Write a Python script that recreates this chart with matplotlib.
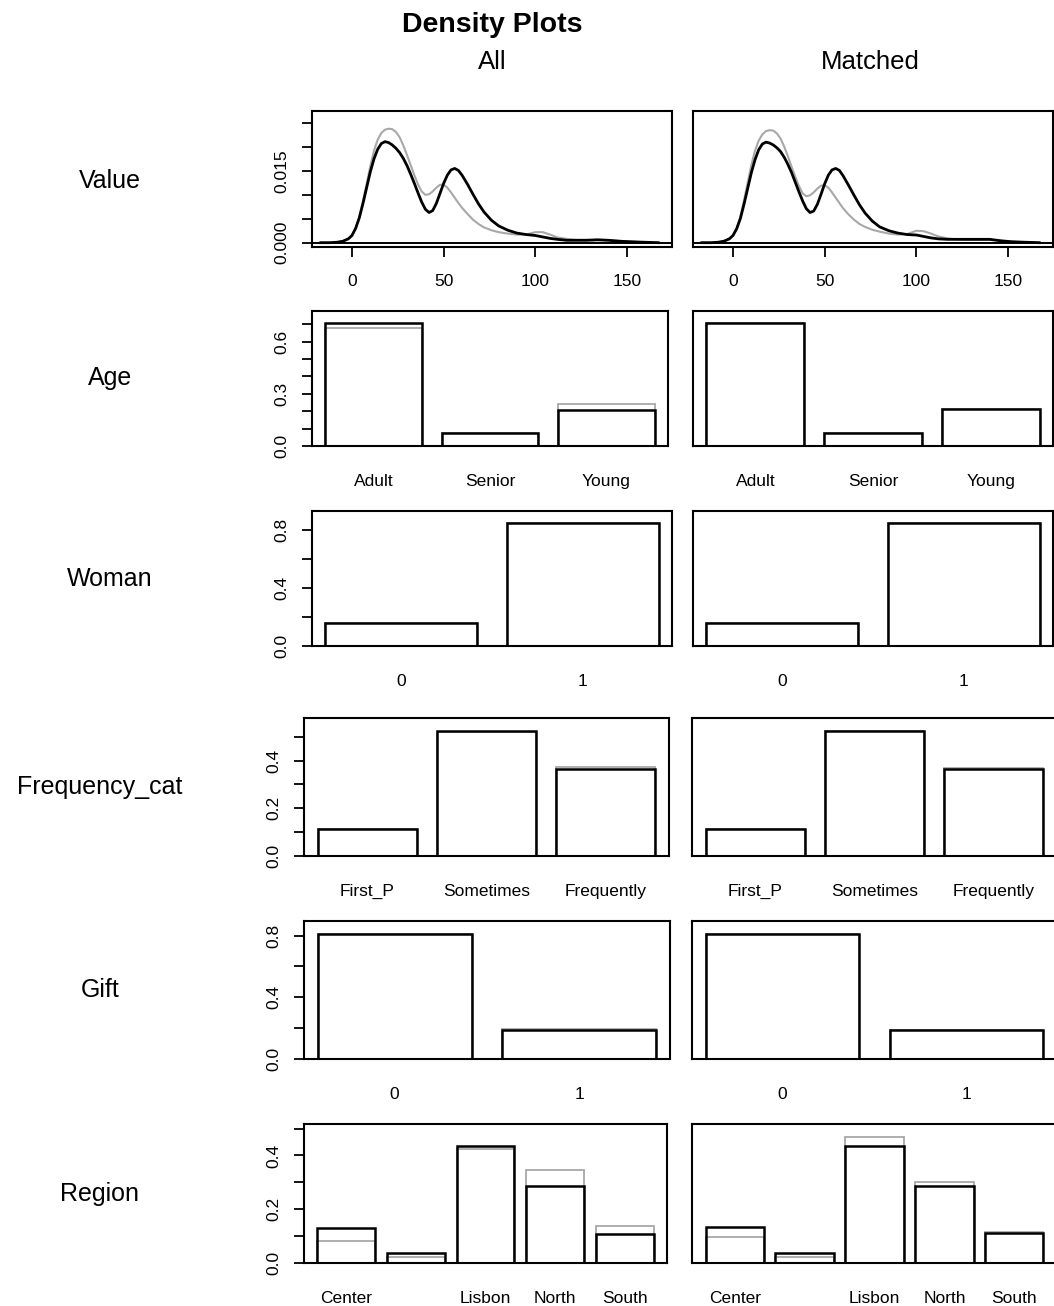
import matplotlib.pyplot as plt
import numpy as np

plt.rcParams['font.family'] = ['Liberation Sans', 'DejaVu Sans']

# ---- data ----
value_x = [-17, -12, -8, -5, -2, 0, 2, 4, 6, 8, 10, 12, 14, 16, 18, 20, 22, 24, 26, 28,
           30, 32, 34, 36, 38, 40, 42, 44, 46, 48, 50, 52, 54, 56, 58, 60, 63, 66, 69, 72,
           76, 80, 85, 90, 95, 100, 104, 108, 112, 117, 122, 128, 134, 140, 146, 152, 159, 167]
value_all_black = [0, 0, 0.0001, 0.0003, 0.0008, 0.0015, 0.0030, 0.0052, 0.0082, 0.0115,
                   0.0148, 0.0175, 0.0195, 0.0207, 0.0211, 0.0209, 0.0204, 0.0197, 0.0188, 0.0176,
                   0.0161, 0.0143, 0.0124, 0.0104, 0.0085, 0.0070, 0.0063, 0.0067, 0.0082, 0.0103,
                   0.0124, 0.0141, 0.0152, 0.0155, 0.0151, 0.0141, 0.0122, 0.0101, 0.0081, 0.0064,
                   0.0047, 0.0035, 0.0026, 0.0020, 0.0017, 0.0015, 0.0012, 0.0009, 0.0007, 0.0005,
                   0.0005, 0.0005, 0.0006, 0.0005, 0.0003, 0.0002, 0.0001, 0]
value_all_gray = [0, 0, 0.0001, 0.0003, 0.0008, 0.0015, 0.0030, 0.0054, 0.0087, 0.0123,
                  0.0160, 0.0192, 0.0215, 0.0229, 0.0236, 0.0238, 0.0237, 0.0231, 0.0220, 0.0203,
                  0.0183, 0.0162, 0.0141, 0.0122, 0.0107, 0.0100, 0.0101, 0.0107, 0.0115, 0.0121,
                  0.0121, 0.0115, 0.0105, 0.0094, 0.0083, 0.0073, 0.0060, 0.0048, 0.0039, 0.0032,
                  0.0026, 0.0022, 0.0019, 0.0017, 0.0017, 0.0022, 0.0022, 0.0017, 0.0011, 0.0008,
                  0.0006, 0.0006, 0.0006, 0.0005, 0.0004, 0.0002, 0.0001, 0]
value_match_black = [0, 0, 0.0001, 0.0003, 0.0008, 0.0015, 0.0029, 0.0050, 0.0080, 0.0113,
                     0.0146, 0.0173, 0.0194, 0.0206, 0.0210, 0.0208, 0.0204, 0.0198, 0.0190, 0.0178,
                     0.0163, 0.0146, 0.0126, 0.0106, 0.0087, 0.0071, 0.0063, 0.0066, 0.0080, 0.0101,
                     0.0123, 0.0141, 0.0152, 0.0155, 0.0151, 0.0140, 0.0120, 0.0099, 0.0079, 0.0062,
                     0.0045, 0.0033, 0.0025, 0.0020, 0.0017, 0.0016, 0.0013, 0.0010, 0.0008, 0.0007,
                     0.0007, 0.0007, 0.0007, 0.0007, 0.0004, 0.0002, 0.0001, 0]
value_match_gray = [0, 0, 0.0001, 0.0003, 0.0008, 0.0015, 0.0030, 0.0054, 0.0088, 0.0125,
                    0.0162, 0.0192, 0.0213, 0.0226, 0.0233, 0.0235, 0.0234, 0.0228, 0.0217, 0.0200,
                    0.0180, 0.0158, 0.0137, 0.0118, 0.0103, 0.0097, 0.0099, 0.0105, 0.0113, 0.0119,
                    0.0120, 0.0115, 0.0105, 0.0094, 0.0083, 0.0072, 0.0059, 0.0048, 0.0039, 0.0033,
                    0.0027, 0.0023, 0.0019, 0.0017, 0.0018, 0.0025, 0.0024, 0.0019, 0.0013, 0.0009,
                    0.0007, 0.0006, 0.0006, 0.0006, 0.0004, 0.0002, 0.0001, 0]
value_xticks = [0, 50, 100, 150]
value_yticks = [0, 0.005, 0.010, 0.015, 0.020, 0.025]
value_ylabels = ['0.000', '', '', '0.015', '', '']

age_labels = ['Adult', 'Senior', 'Young']
age_all_black = [0.705, 0.077, 0.208]
age_all_gray = [0.677, 0.077, 0.240]
age_match_black = [0.705, 0.077, 0.210]
age_match_gray = [0.705, 0.077, 0.210]
age_yticks = [0.0, 0.1, 0.2, 0.3, 0.4, 0.5, 0.6, 0.7]
age_ylabels = ['0.0', '', '', '0.3', '', '', '0.6', '']

woman_labels = ['0', '1']
woman_all_black = [0.156, 0.844]
woman_all_gray = [0.156, 0.844]
woman_match_black = [0.156, 0.844]
woman_match_gray = [0.156, 0.844]
woman_yticks = [0.0, 0.2, 0.4, 0.6, 0.8]
woman_ylabels = ['0.0', '', '0.4', '', '0.8']

freq_labels = ['First_P', 'Sometimes', 'Frequently']
freq_all_black = [0.112, 0.526, 0.365]
freq_all_gray = [0.112, 0.519, 0.372]
freq_match_black = [0.112, 0.526, 0.365]
freq_match_gray = [0.112, 0.526, 0.369]
freq_yticks = [0.0, 0.1, 0.2, 0.3, 0.4, 0.5]
freq_ylabels = ['0.0', '', '0.2', '', '0.4', '']

gift_labels = ['0', '1']
gift_all_black = [0.813, 0.190]
gift_all_gray = [0.808, 0.197]
gift_match_black = [0.813, 0.190]
gift_match_gray = [0.813, 0.190]
gift_yticks = [0.0, 0.2, 0.4, 0.6, 0.8]
gift_ylabels = ['0.0', '', '0.4', '', '0.8']

region_labels = ['Center', '', 'Lisbon', 'North', 'South']
region_all_black = [0.131, 0.039, 0.435, 0.288, 0.108]
region_all_gray = [0.081, 0.023, 0.423, 0.345, 0.139]
region_match_black = [0.133, 0.039, 0.435, 0.288, 0.110]
region_match_gray = [0.095, 0.023, 0.470, 0.300, 0.114]
region_yticks = [0.0, 0.1, 0.2, 0.3, 0.4, 0.5]
region_ylabels = ['0.0', '', '0.2', '', '0.4', '']

# ---- layout (pixels) ----
W, H = 1054, 1306
GRAY = '#a8a8a8'
fig = plt.figure(figsize=(W / 100, H / 100), dpi=100)


def rect(l, t, r, b):
    return [l / W, 1 - b / H, (r - l) / W, (b - t) / H]


def style(ax, yticks=None, ylabels=None):
    for s in ax.spines.values():
        s.set_linewidth(1.5)
    if yticks is None:
        ax.set_yticks([])
    else:
        ax.set_yticks(yticks, labels=ylabels)
        ax.tick_params(axis='y', length=7.5, width=1.3, pad=9, labelsize=12.5, labelrotation=90)
        for t in ax.get_yticklabels():
            t.set_va('center')


def density(ax, black, gray, show_y):
    ax.plot(value_x, gray, color=GRAY, lw=1.5)
    ax.plot(value_x, black, color='black', lw=2)
    ax.axhline(0, color='black', lw=1.4)
    ax.set_xlim(-21.8, 174.5)
    ax.set_ylim(-0.0009, 0.0275)
    ax.set_xticks(value_xticks)
    ax.tick_params(axis='x', length=7.5, width=1.3, pad=12, labelsize=12.5)
    style(ax, value_yticks if show_y else None, value_ylabels if show_y else None)


def bars(ax, labels, black, gray, top, yticks=None, ylabels=None):
    n = len(labels)
    lefts = [0.2 + 1.2 * i for i in range(n)]
    ax.bar(lefts, gray, width=1, align='edge', fill=False, edgecolor=GRAY, lw=1.3)
    ax.bar(lefts, black, width=1, align='edge', fill=False, edgecolor='black', lw=1.8)
    span = 1.2 * n - 0.2
    ax.set_xlim(0.2 - 0.04 * span, 1.2 * n + 0.04 * span)
    ax.set_ylim(0, top)
    ax.set_xticks([l + 0.5 for l in lefts], labels=labels)
    ax.tick_params(axis='x', length=0, pad=20, labelsize=12.5)
    style(ax, yticks, ylabels)


# Value row
ax = fig.add_axes(rect(312, 111, 672, 247))
density(ax, value_all_black, value_all_gray, True)
ax = fig.add_axes(rect(693, 111, 1053, 247))
density(ax, value_match_black, value_match_gray, False)

rows = [
    ('Age', age_labels, age_all_black, age_all_gray, age_match_black, age_match_gray,
     age_yticks, age_ylabels, (312, 311, 668, 446), (693, 311, 1053, 446), 110),
    ('Woman', woman_labels, woman_all_black, woman_all_gray, woman_match_black, woman_match_gray,
     woman_yticks, woman_ylabels, (312, 511, 672, 646), (693, 511, 1053, 646), 110),
    ('Frequency_cat', freq_labels, freq_all_black, freq_all_gray, freq_match_black, freq_match_gray,
     freq_yticks, freq_ylabels, (304, 718, 669, 856), (692, 718, 1057, 856), 100),
    ('Gift', gift_labels, gift_all_black, gift_all_gray, gift_match_black, gift_match_gray,
     gift_yticks, gift_ylabels, (304, 921, 670, 1059), (692, 921, 1057, 1059), 100),
    ('Region', region_labels, region_all_black, region_all_gray, region_match_black, region_match_gray,
     region_yticks, region_ylabels, (304, 1124, 667, 1263), (692, 1124, 1057, 1263), 100),
]

for name, labels, ab, ag, mb, mg, yt, yl, lbox, rbox, lx in rows:
    top = 1.1 * max(ab + ag + mb + mg)
    ax = fig.add_axes(rect(*lbox))
    bars(ax, labels, ab, ag, top, yt, yl)
    ax = fig.add_axes(rect(*rbox))
    bars(ax, labels, mb, mg, top)
    fig.text(lx / W, 1 - (lbox[1] + lbox[3]) / 2 / H, name, ha='center', va='center', fontsize=18)

fig.text(110 / W, 1 - 181 / H, 'Value', ha='center', va='center', fontsize=18)

fig.text(492 / W, 1 - 25 / H, 'Density Plots', ha='center', va='center', fontsize=20.5, fontweight='bold')
fig.text(492 / W, 1 - 62 / H, 'All', ha='center', va='center', fontsize=18.5)
fig.text(870 / W, 1 - 62 / H, 'Matched', ha='center', va='center', fontsize=18.5)

fig.savefig('out.png', dpi=100, facecolor='white')
